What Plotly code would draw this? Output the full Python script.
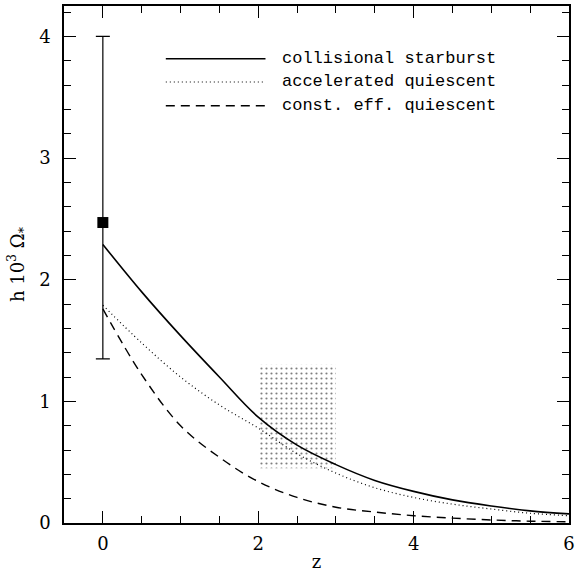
import plotly.graph_objects as go

# ---- data ----
z = [0, 0.5, 1, 1.5, 2, 2.5, 3, 3.5, 4, 4.5, 5, 5.5, 6]
collisional_starburst = [2.29, 1.90, 1.54, 1.20, 0.87, 0.64, 0.48, 0.35, 0.26, 0.19, 0.14, 0.10, 0.075]
accelerated_quiescent = [1.79, 1.48, 1.20, 0.97, 0.78, 0.57, 0.41, 0.29, 0.21, 0.155, 0.115, 0.08, 0.06]
const_eff_quiescent = [1.76, 1.22, 0.80, 0.54, 0.34, 0.21, 0.13, 0.09, 0.06, 0.04, 0.025, 0.015, 0.01]

obs_z = [0]
obs_val = [2.47]
obs_err_plus = [4.0 - 2.47]
obs_err_minus = [2.47 - 1.35]

box_z = [2, 3]
box_val = [0.45, 1.3]

legend_names = ["collisional starburst", "accelerated quiescent", "const. eff. quiescent"]
x_ticks = [0, 2, 4, 6]
y_ticks = [0, 1, 2, 3, 4]

FONT = "DejaVu Serif"
LEG_FONT = "Liberation Mono"

fig = go.Figure()

# stippled box
fig.add_trace(go.Scatter(
    x=[box_z[0], box_z[1], box_z[1], box_z[0], box_z[0]],
    y=[box_val[0], box_val[0], box_val[1], box_val[1], box_val[0]],
    mode="lines", fill="toself", line=dict(width=0),
    fillpattern=dict(shape=".", size=5, solidity=0.15, fgcolor="black", bgcolor="rgba(0,0,0,0)"),
    fillcolor="rgba(0,0,0,0)",
    showlegend=False, hoverinfo="skip"))

styles = [dict(color="black", width=1.6, dash="solid"),
          dict(color="black", width=1.2, dash="1px,3px"),
          dict(color="black", width=1.4, dash="9px,6px")]
series = [collisional_starburst, accelerated_quiescent, const_eff_quiescent]
for name, ys, st in zip(legend_names, series, styles):
    fig.add_trace(go.Scatter(x=z, y=ys, mode="lines", line=dict(shape="spline", **st),
                             name=name, showlegend=False))

fig.add_trace(go.Scatter(
    x=obs_z, y=obs_val, mode="markers",
    marker=dict(symbol="square", size=11, color="black"),
    error_y=dict(type="data", symmetric=False, array=obs_err_plus, arrayminus=obs_err_minus,
                 color="black", thickness=1.2, width=7),
    showlegend=False))

# manual legend
rows_y = [0.898, 0.853, 0.807]
for name, st, yy in zip(legend_names, styles, rows_y):
    fig.add_shape(type="line", xref="paper", yref="paper", x0=0.2016, x1=0.399, y0=yy, y1=yy,
                  line=st)
    fig.add_annotation(xref="paper", yref="paper", x=0.4286, y=yy, text=name, showarrow=False,
                       xanchor="left", yanchor="middle", font=dict(family=LEG_FONT, size=17, color="black"))

axis_common = dict(showline=True, linecolor="black", linewidth=1.5, mirror="allticks",
                   ticks="inside", ticklen=12, tickwidth=1.2, tickcolor="black",
                   showgrid=False, zeroline=False,
                   tickfont=dict(family=FONT, size=18, color="black"))

fig.update_xaxes(range=[-0.5, 6], tickvals=x_ticks, ticklabelstandoff=4,
                 minor=dict(ticks="inside", ticklen=7, dtick=0.5, tick0=0, tickcolor="black", tickwidth=1.2),
                 title=dict(text="z", font=dict(family=FONT, size=18, color="black"), standoff=2),
                 **axis_common)
fig.update_yaxes(range=[0, 4.25], tickvals=y_ticks, ticklabelstandoff=8,
                 minor=dict(ticks="inside", ticklen=7, dtick=0.2, tick0=0, tickcolor="black", tickwidth=1.2),
                 title=dict(text="h 10<sup>3</sup> Ω<sub>*</sub>", font=dict(family=FONT, size=18, color="black"), standoff=10),
                 **axis_common)

fig.update_layout(width=579, height=573, margin=dict(l=64, r=4, t=6, b=49),
                  plot_bgcolor="white", paper_bgcolor="white", showlegend=False)

fig.write_html("out.html")
